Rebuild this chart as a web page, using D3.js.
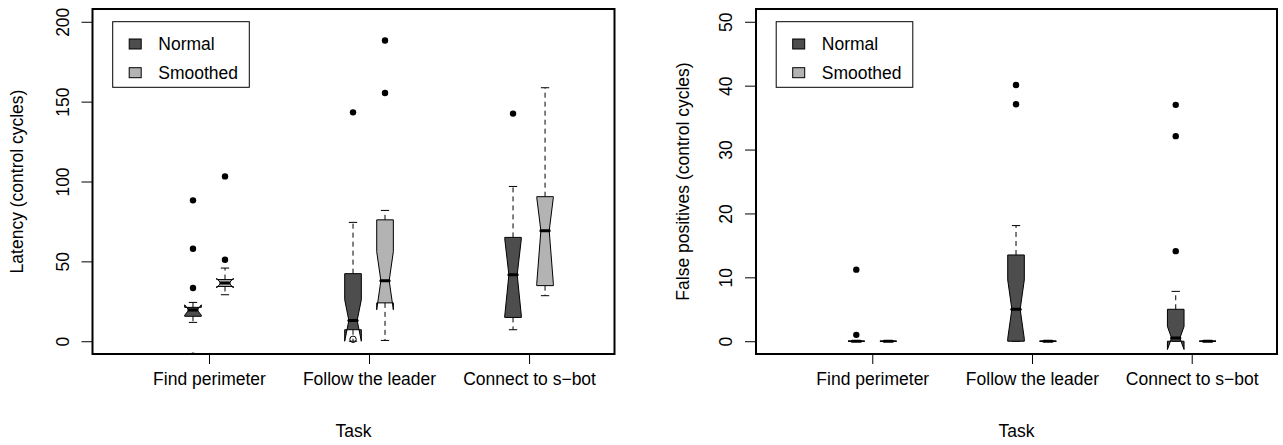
<!DOCTYPE html>
<html><head><meta charset="utf-8">
<script src="https://cdn.jsdelivr.net/npm/d3@7"></script>
<style>
body{margin:0;background:#fff}
svg{display:block}
text{font-family:"Liberation Sans",Arial,Helvetica,sans-serif;fill:#000}
</style>
</head><body>
<svg id="chart" width="1283" height="445"></svg>
<script>
// ---------- DATA ----------
const tasks = ["Find perimeter", "Follow the leader", "Connect to s\u2212bot"];
const seriesNames = ["Normal", "Smoothed"];
const seriesFills = ["#4d4d4d", "#b3b3b3"];
const yTickLatency = [0, 50, 100, 150, 200];
const yTickFalse = [0, 10, 20, 30, 40, 50];

// box stats per task: [lowWhisker, q1, median, q3, highWhisker, notchLow, notchHigh]
const latencyNormal = [
  [11.8, 15.6, 19.5, 21.2, 24.3, 16.3, 22.8],
  [0, 7.2, 13.0, 42.3, 74.4, 0, 26.0],
  [7.2, 14.9, 41.6, 65.0, 96.9, 15.8, 64.2]
];
const latencyNormalOutliers = [[33.3, 57.9, 88.2, -9], [143.3], [142.5]];
const latencySmoothed = [
  [29.1, 34.3, 36.4, 38.6, 45.8, 33.4, 39.4],
  [0.5, 24.0, 37.9, 76.0, 81.9, 19.7, 56.1],
  [28.5, 34.8, 69.2, 90.5, 158.7, 36.0, 90.0]
];
const latencySmoothedOutliers = [[51.0, 103.2], [155.4, 188.3], []];
const latencyOpenPoints = [[], [1.2], []]; // open circle (Normal series)

const falseNormal = [
  [0, 0, 0, 0, 0, 0, 0],
  [0, 0, 5.0, 13.5, 18.1, 0.4, 9.6],
  [0, 0, 0.5, 5.0, 7.8, -1.3, 2.3]
];
const falseNormalOutliers = [[1.0, 11.2], [37.1, 40.1], [14.1, 32.1, 37.0]];
const falseSmoothed = [
  [0, 0, 0, 0, 0, 0, 0],
  [0, 0, 0, 0, 0, 0, 0],
  [0, 0, 0, 0, 0, 0, 0]
];
const falseSmoothedOutliers = [[], [], []];

// ---------- DRAW ----------
const svg = d3.select("#chart");
const TICKFONT = 17.5;
const TITLEFONT = 17.5;

function panel(cfg, idx) {
  const {left, right, top, bottom} = cfg;
  const g = svg.append("g");
  const x = d3.scaleLinear().domain([1.36, 17.67]).range([left, right]);
  const y = d3.scaleLinear().domain(cfg.yDomain).range([bottom, top]);
  const centers = tasks.map((t, i) => 5 + 5 * i);
  const hw = 0.26; // half box width (units)

  const clipId = "clip" + idx;
  svg.append("defs").append("clipPath").attr("id", clipId)
    .append("rect").attr("x", left).attr("y", top)
    .attr("width", right - left).attr("height", bottom - top);
  const plot = g.append("g").attr("clip-path", `url(#${clipId})`);

  const series = [
    {stats: cfg.normal, out: cfg.normalOut, fill: seriesFills[0], off: -0.5, open: cfg.open || [[], [], []]},
    {stats: cfg.smoothed, out: cfg.smoothedOut, fill: seriesFills[1], off: 0.5, open: [[], [], []]}
  ];

  series.forEach(s => {
    s.stats.forEach((st, i) => {
      const [lw, q1, med, q3, hwk, cl, ch] = st;
      const cx = centers[i] + s.off;
      const X = v => x(cx + v);
      plot.append("line").attr("x1", X(0)).attr("x2", X(0))
        .attr("y1", y(q3)).attr("y2", y(hwk))
        .attr("stroke", "#000").attr("stroke-width", 1).attr("stroke-dasharray", "5,4");
      plot.append("line").attr("x1", X(0)).attr("x2", X(0))
        .attr("y1", y(q1)).attr("y2", y(lw))
        .attr("stroke", "#000").attr("stroke-width", 1).attr("stroke-dasharray", "5,4");
      [lw, hwk].forEach(v => {
        plot.append("line").attr("x1", X(-hw / 2)).attr("x2", X(hw / 2))
          .attr("y1", y(v)).attr("y2", y(v))
          .attr("stroke", "#000").attr("stroke-width", 1);
      });
      const pts = [
        [X(-hw), y(q1)], [X(hw), y(q1)], [X(hw), y(cl)], [X(hw / 2), y(med)],
        [X(hw), y(ch)], [X(hw), y(q3)], [X(-hw), y(q3)], [X(-hw), y(ch)],
        [X(-hw / 2), y(med)], [X(-hw), y(cl)]
      ];
      plot.append("polygon").attr("points", pts.map(p => p.join(",")).join(" "))
        .attr("fill", s.fill).attr("stroke", "#000").attr("stroke-width", 1)
        .attr("stroke-linejoin", "miter");
      plot.append("line").attr("x1", X(-hw / 2)).attr("x2", X(hw / 2))
        .attr("y1", y(med)).attr("y2", y(med))
        .attr("stroke", "#000").attr("stroke-width", 3).attr("stroke-linecap", "round");
      s.out[i].forEach(v => {
        plot.append("circle").attr("cx", X(0)).attr("cy", y(v)).attr("r", 3.2).attr("fill", "#000");
      });
      s.open[i].forEach(v => {
        plot.append("circle").attr("cx", X(0)).attr("cy", y(v)).attr("r", 3.2)
          .attr("fill", "none").attr("stroke", "#000").attr("stroke-width", 1);
      });
    });
  });

  g.append("rect").attr("x", left).attr("y", top).attr("width", right - left).attr("height", bottom - top)
    .attr("fill", "none").attr("stroke", "#000").attr("stroke-width", 2);

  const ya = g.append("g").attr("transform", `translate(${left},0)`)
    .call(d3.axisLeft(y).tickValues(cfg.yTicks).tickSize(11).tickSizeOuter(0));
  ya.select(".domain").remove();
  ya.selectAll(".tick line").attr("stroke", "#000");
  ya.selectAll(".tick text").attr("x", null).attr("dy", null)
    .attr("transform", "translate(-24,0) rotate(-90)")
    .attr("text-anchor", "middle")
    .style("font-size", TICKFONT + "px").style("font-family", '"Liberation Sans",Arial,sans-serif');

  const xa = g.append("g").attr("transform", `translate(0,${bottom})`)
    .call(d3.axisBottom(x).tickValues(centers).tickFormat((d, i) => tasks[i]).tickSize(10).tickSizeOuter(0).tickPadding(9));
  xa.select(".domain").remove();
  xa.selectAll(".tick line").attr("stroke", "#000");
  xa.selectAll(".tick text").style("font-size", TICKFONT + "px").style("font-family", '"Liberation Sans",Arial,sans-serif');

  g.append("text").attr("x", (left + right) / 2).attr("y", 437)
    .attr("text-anchor", "middle").style("font-size", TITLEFONT + "px").text("Task");
  g.append("text").attr("transform", `translate(${cfg.ylabX},${(top + bottom) / 2}) rotate(-90)`)
    .attr("text-anchor", "middle").style("font-size", TITLEFONT + "px").text(cfg.ylabel);

  const lx = left + 20.2, ly = 21.7;
  const lg = g.append("g");
  lg.append("rect").attr("x", lx).attr("y", ly).attr("width", 136.6).attr("height", 65.6)
    .attr("fill", "#fff").attr("stroke", "#000").attr("stroke-width", 1);
  seriesNames.forEach((n, i) => {
    const cy = 44 + i * 28.7;
    lg.append("rect").attr("x", lx + 16.5).attr("y", cy - 5).attr("width", 12).attr("height", 10)
      .attr("fill", seriesFills[i]).attr("stroke", "#000").attr("stroke-width", 1);
    lg.append("text").attr("x", lx + 45.6).attr("y", cy + 6.3).style("font-size", "17.5px").text(n);
  });
}

panel({left: 92.5, right: 614.5, top: 9, bottom: 354, yDomain: [-8, 208], yTicks: yTickLatency,
  ylabel: "Latency (control cycles)", ylabX: 23,
  normal: latencyNormal, normalOut: latencyNormalOutliers, open: latencyOpenPoints,
  smoothed: latencySmoothed, smoothedOut: latencySmoothedOutliers}, 0);

panel({left: 756, right: 1277, top: 9, bottom: 354, yDomain: [-2, 52], yTicks: yTickFalse,
  ylabel: "False positives (control cycles)", ylabX: 689,
  normal: falseNormal, normalOut: falseNormalOutliers,
  smoothed: falseSmoothed, smoothedOut: falseSmoothedOutliers}, 1);
</script>
</body></html>
